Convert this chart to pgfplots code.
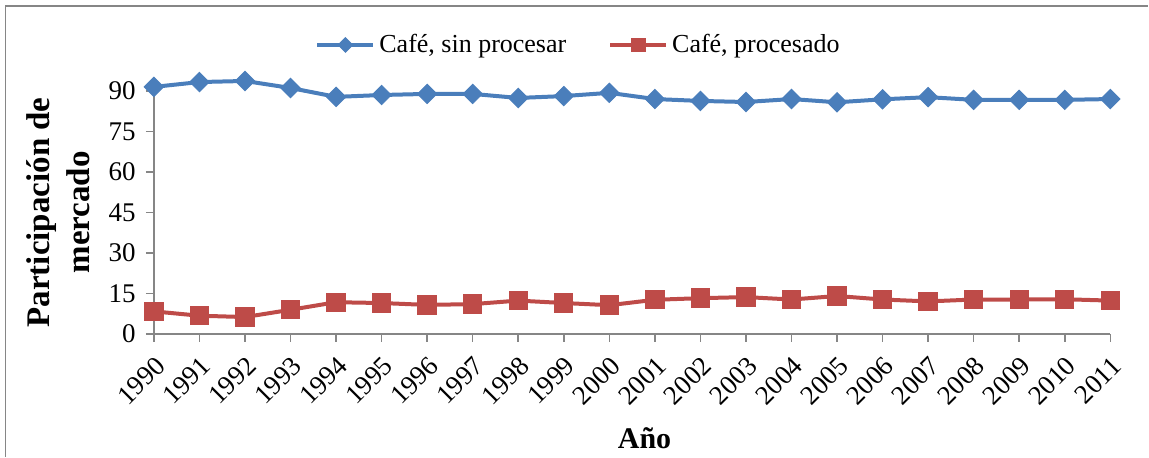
\documentclass[border=0pt]{standalone}
\usepackage{fontspec}
\setmainfont{Liberation Serif}
\usepackage{pgfplots}
\pgfplotsset{compat=1.18}
\definecolor{cblue}{HTML}{4A7EBB}
\definecolor{cred}{HTML}{BE4B48}
\definecolor{axgray}{HTML}{868686}
\begin{document}
\begin{tikzpicture}
\begin{axis}[
  scale only axis, width=478.5pt, height=121.5pt,
  xmin=1990, xmax=2011, ymin=0, ymax=90,
  clip=false,
  axis lines*=left,
  axis line style={axgray, line width=0.75pt},
  tick style={axgray, line width=0.75pt},
  tick align=outside, major tick length=4pt,
  xtick={1990,1991,1992,1993,1994,1995,1996,1997,1998,1999,2000,2001,2002,2003,2004,2005,2006,2007,2008,2009,2010,2011},
  xticklabels={1990,1991,1992,1993,1994,1995,1996,1997,1998,1999,2000,2001,2002,2003,2004,2005,2006,2007,2008,2009,2010,2011},
  ytick={0,15,30,45,60,75,90},
  yticklabels={0,15,30,45,60,75,90},
  tick label style={font=\fontsize{13.5}{15}\selectfont, black},
  xticklabel style={rotate=45, anchor=north east, inner sep=1pt},
  xticklabel shift=5pt,
  yticklabel style={inner sep=5pt},
  ylabel={Participación de\\mercado},
  ylabel style={font=\fontsize{16.5}{20}\selectfont\bfseries, align=center, at={(axis description cs:0,0.5)}, anchor=center, yshift=48pt},
  xlabel={Año},
  xlabel style={font=\fontsize{15}{17}\selectfont\bfseries, at={(axis description cs:0.513,0)}, anchor=center, yshift=-52pt},
  legend style={at={(axis description cs:0.445,1)}, anchor=center, yshift=23pt, draw=none, fill=none,
    font=\fontsize{13}{15}\selectfont, nodes={inner sep=2pt}, /tikz/every even column/.append style={column sep=19pt}},
  legend columns=2,
  legend image code/.code={\draw[mark repeat=2,mark phase=2,#1, every mark/.append style={scale=0.75}] plot coordinates {(0pt,0pt)(14pt,0pt)(28pt,0pt)};},
]
\addplot[cblue, line width=2pt, mark=square*, mark size=3.4pt, mark options={rotate=45, line width=0.5pt, fill=cblue}] coordinates {
(1990,91.5)(1991,93.3)(1992,93.7)(1993,91.1)(1994,87.8)(1995,88.5)(1996,88.9)(1997,88.9)(1998,87.4)(1999,88.1)(2000,89.3)
(2001,87.0)(2002,86.3)(2003,85.9)(2004,87.0)(2005,85.8)(2006,86.9)(2007,87.7)(2008,86.7)(2009,86.7)(2010,86.7)(2011,87.0)};
\addlegendentry{Café, sin procesar}
\addplot[cred, line width=2pt, mark=square*, mark size=4.6pt, mark options={line width=0.5pt, fill=cred}] coordinates {
(1990,8.3)(1991,6.7)(1992,6.2)(1993,8.9)(1994,11.7)(1995,11.4)(1996,10.7)(1997,11.0)(1998,12.3)(1999,11.4)(2000,10.6)
(2001,12.6)(2002,13.2)(2003,13.6)(2004,12.7)(2005,14.0)(2006,12.7)(2007,12.0)(2008,12.7)(2009,12.7)(2010,12.8)(2011,12.3)};
\addlegendentry{Café, procesado}
\coordinate (bl) at (rel axis cs:0,0);
\coordinate (tr) at (rel axis cs:1,1);
\end{axis}
\pgfresetboundingbox
\path ([shift={(-77pt,-61.5pt)}]bl) rectangle ([shift={(19pt,45.5pt)}]tr);
\draw[axgray, line width=0.75pt] ([shift={(-74.25pt,-61.5pt)}]bl) -- ([shift={(-74.25pt,42.5pt)}]bl |- tr) -- ([shift={(19pt,42.5pt)}]tr);
\end{tikzpicture}
\end{document}
